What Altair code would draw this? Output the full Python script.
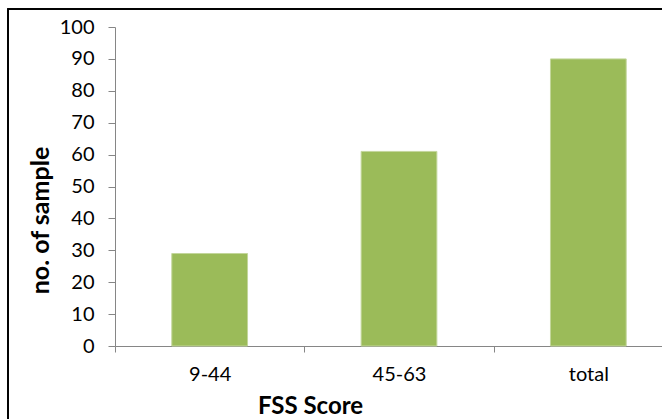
import altair as alt
import pandas as pd

categories = ["9-44", "45-63", "total"]
samples = [29, 61, 90]

df = pd.DataFrame({"group": categories, "n": samples})

FONT = "Lato"
AXIS_GREY = "#868686"

W, H = 547, 319

bars = alt.Chart(df).mark_bar(
    color="#9BBB59", stroke="#C3D69B", strokeWidth=1, width=alt.RelativeBandSize(0.4)
).encode(
    x=alt.X(
        "group:N",
        sort=categories,
        scale=alt.Scale(paddingInner=0, paddingOuter=0, range=[0, 568]),
        axis=alt.Axis(
            title="FSS Score",
            labelAngle=0,
            tickBand="extent",
            tickSize=6,
            labelPadding=12,
            titleX=195,
            titleY=67,
            titleAlign="center",
            titleBaseline="alphabetic",
            titleFontSize=24,
        ),
    ),
    y=alt.Y(
        "n:Q",
        scale=alt.Scale(domain=[0, 100]),
        axis=alt.Axis(
            title="no. of sample",
            values=list(range(0, 101, 10)),
            tickSize=7,
            labelPadding=14,
            titleX=-75,
            titleY=193,
            titleAngle=270,
            titleAlign="center",
            titleBaseline="middle",
            titleFontSize=25,
            grid=False,
        ),
    ),
)

# outer frame around the whole figure
frame = alt.Chart(df).mark_rect(
    fill=None, stroke="black", strokeWidth=1.5, clip=False
).encode(
    x=alt.value(-107),
    x2=alt.value(W + 200),
    y=alt.value(-18),
    y2=alt.value(H + 200),
)

chart = (
    alt.layer(bars, frame)
    .properties(
        width=W,
        height=H,
        background="white",
        autosize=alt.AutoSizeParams(type="none"),
        padding={"left": 115, "top": 27, "right": 0, "bottom": 73},
    )
    .configure_view(stroke=None)
    .configure_axis(
        domainColor=AXIS_GREY,
        tickColor=AXIS_GREY,
        labelFont=FONT,
        titleFont=FONT,
        labelFontSize=20,
        labelColor="#000000",
        titleColor="#000000",
        titleFontWeight="bold",
        domainWidth=1,
        tickWidth=1,
    )
)

chart.save("out.html", embed_options={"renderer": "svg", "actions": False})
